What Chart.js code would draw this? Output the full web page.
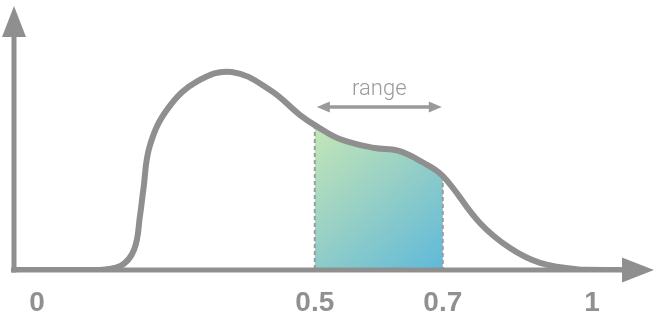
<!DOCTYPE html>
<html>
<head>
<meta charset="utf-8">
<script src="https://cdn.jsdelivr.net/npm/chart.js@4/dist/chart.umd.min.js"></script>
<style>
  html, body { margin: 0; padding: 0; background: #ffffff; }
  #wrap { width: 660px; height: 330px; }
</style>
</head>
<body>
<div id="wrap"><canvas id="c" width="660" height="330"></canvas></div>
<script>
// ---- data ----
const curveX = [0.03, 0.157, 0.196, 0.2175, 0.227, 0.232, 0.2425, 0.272, 0.3175, 0.37, 0.43, 0.477, 0.5, 0.539, 0.594, 0.63, 0.667, 0.7, 0.758, 0.805, 0.852, 0.914, 0.977];
const curveY = [0, 0, 0.015, 0.076, 0.208, 0.303, 0.473, 0.617, 0.716, 0.75, 0.682, 0.587, 0.549, 0.496, 0.462, 0.452, 0.41, 0.356, 0.178, 0.083, 0.027, 0.002, 0];
const xTickValues = [0.066, 0.5, 0.7, 0.933];
const xTickLabels = ['0', '0.5', '0.7', '1'];
const rangeStart = 0.5;
const rangeEnd = 0.7;
const rangeLabel = 'range';
const rangeArrowLevel = 0.617;
const rangeLabelLevel = 0.663;

const GRAY = '#8f8f8f';

const annotations = {
  id: 'annotations',
  beforeDatasetsDraw(chart) {
    const { ctx, chartArea: a, scales: { x, y } } = chart;
    const meta = chart.getDatasetMeta(0);
    const line = meta.dataset;
    const x0 = x.getPixelForValue(rangeStart);
    const x1 = x.getPixelForValue(rangeEnd);
    const y0 = y.getPixelForValue(0);
    ctx.save();
    ctx.beginPath();
    ctx.rect(x0, a.top, x1 - x0, y0 - a.top);
    ctx.clip();
    const g = ctx.createLinearGradient(x0, y.getPixelForValue(0.56), x1, y0);
    g.addColorStop(0, '#c6e7b6');
    g.addColorStop(0.5, '#95cfc6');
    g.addColorStop(1, '#5fb9da');
    ctx.beginPath();
    line.path(ctx);
    const pts = meta.data;
    ctx.lineTo(pts[pts.length - 1].x, y0);
    ctx.lineTo(pts[0].x, y0);
    ctx.closePath();
    ctx.fillStyle = g;
    ctx.fill();
    ctx.restore();
    ctx.save();
    ctx.strokeStyle = '#9c9c9c';
    ctx.lineWidth = 2;
    ctx.setLineDash([4, 3]);
    [rangeStart, rangeEnd].forEach(v => {
      const i = curveX.indexOf(v);
      const p = pts[i];
      ctx.beginPath();
      ctx.moveTo(p.x, p.y);
      ctx.lineTo(p.x, y0);
      ctx.stroke();
    });
    ctx.restore();
  },
  afterDatasetsDraw(chart) {
    const { ctx, chartArea: a, scales: { x, y } } = chart;
    const ax = a.left;
    const ay = y.getPixelForValue(0);
    ctx.save();
    ctx.strokeStyle = GRAY;
    ctx.fillStyle = GRAY;
    ctx.lineWidth = 5;
    ctx.beginPath();
    ctx.moveTo(ax - 3, ay);
    ctx.lineTo(a.right - 30, ay);
    ctx.stroke();
    ctx.beginPath();
    ctx.moveTo(a.right, ay);
    ctx.lineTo(a.right - 32, ay - 12.5);
    ctx.lineTo(a.right - 32, ay + 12.5);
    ctx.closePath();
    ctx.fill();
    ctx.beginPath();
    ctx.moveTo(ax, ay + 2.5);
    ctx.lineTo(ax, a.top + 30);
    ctx.stroke();
    ctx.beginPath();
    ctx.moveTo(ax, a.top);
    ctx.lineTo(ax - 12, a.top + 31);
    ctx.lineTo(ax + 12, a.top + 31);
    ctx.closePath();
    ctx.fill();
    ctx.restore();

    const rx0 = x.getPixelForValue(rangeStart) + 2;
    const rx1 = x.getPixelForValue(rangeEnd) - 1;
    const ry = y.getPixelForValue(rangeArrowLevel);
    ctx.save();
    ctx.strokeStyle = '#9a9a9a';
    ctx.fillStyle = '#9a9a9a';
    ctx.lineWidth = 3.5;
    ctx.beginPath();
    ctx.moveTo(rx0 + 10, ry);
    ctx.lineTo(rx1 - 10, ry);
    ctx.stroke();
    ctx.beginPath();
    ctx.moveTo(rx0, ry);
    ctx.lineTo(rx0 + 13, ry - 5.5);
    ctx.lineTo(rx0 + 13, ry + 5.5);
    ctx.closePath();
    ctx.fill();
    ctx.beginPath();
    ctx.moveTo(rx1, ry);
    ctx.lineTo(rx1 - 13, ry - 5.5);
    ctx.lineTo(rx1 - 13, ry + 5.5);
    ctx.closePath();
    ctx.fill();
    ctx.font = '300 22px Roboto, "Liberation Sans", sans-serif';
    ctx.textAlign = 'center';
    ctx.textBaseline = 'alphabetic';
    ctx.fillText(rangeLabel, (rx0 + rx1) / 2, y.getPixelForValue(rangeLabelLevel));
    ctx.restore();
  }
};

new Chart(document.getElementById('c'), {
  type: 'line',
  data: {
    datasets: [{
      data: curveX.map((v, i) => ({ x: v, y: curveY[i] })),
      borderColor: GRAY,
      borderWidth: 6,
      pointRadius: 0,
      fill: false,
      tension: 0.4,
      borderCapStyle: 'round',
      borderJoinStyle: 'round'
    }]
  },
  options: {
    responsive: false,
    animation: false,
    events: [],
    layout: { padding: { left: 14, right: 6, top: 6, bottom: 0 } },
    plugins: { legend: { display: false }, tooltip: { enabled: false } },
    scales: {
      x: {
        type: 'linear',
        min: 0.03,
        max: 1.03,
        grid: { display: false, drawTicks: false },
        border: { display: false },
        afterBuildTicks: s => { s.ticks = xTickValues.map(v => ({ value: v })); },
        afterFit: s => { s.height = 60; },
        ticks: {
          autoSkip: false,
          maxRotation: 0,
          padding: 16,
          color: '#909090',
          font: { family: '"Liberation Sans", Arial, sans-serif', size: 28, weight: 'bold' },
          callback: (v, i) => xTickLabels[i]
        }
      },
      y: {
        display: false,
        min: 0,
        max: 1
      }
    }
  },
  plugins: [annotations]
});
</script>
</body>
</html>
